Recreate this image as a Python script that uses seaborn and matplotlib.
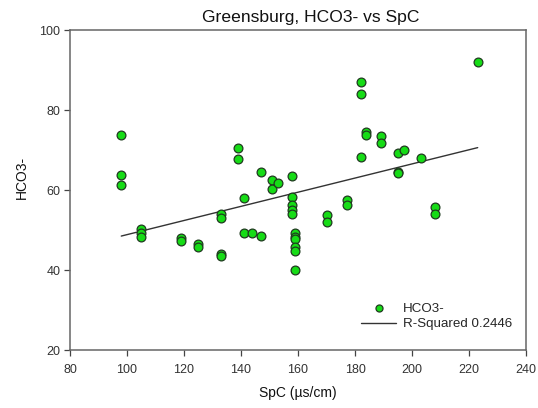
import matplotlib
matplotlib.use("Agg")
import matplotlib.pyplot as plt
import seaborn as sns
import pandas as pd
import numpy as np

# Data
spc = [98, 98, 98,
       105, 105, 105,
       119, 119,
       125, 125,
       133, 133, 133, 133,
       139, 139,
       141, 141,
       144,
       147, 147,
       151, 151,
       153,
       158, 158, 158, 158, 158,
       159, 159, 159, 159, 159, 159,
       170, 170,
       177, 177,
       182, 182, 182,
       184, 184,
       189, 189,
       195, 195, 195,
       197,
       203,
       208, 208,
       223]
hco3 = [73.7, 63.9, 61.4,
        50.2, 49.3, 48.2,
        48.1, 47.2,
        46.6, 45.8,
        54.1, 53.1, 44.0, 43.6,
        70.5, 67.9,
        58.1, 49.2,
        49.4,
        64.5, 48.6,
        62.5, 60.3,
        61.9,
        63.6, 58.4, 56.3, 55.1, 54.1,
        49.2, 48.3, 47.7, 45.8, 44.8, 40.0,
        53.7, 52.1,
        57.5, 56.3,
        87.1, 84.1, 68.4,
        74.6, 73.9,
        73.6, 71.9,
        69.3, 64.6, 64.2,
        70.1,
        68.1,
        55.7, 54.0,
        92.0]

title = "Greensburg, HCO3- vs SpC"
xlabel = "SpC (\u00b5s/cm)"
ylabel = "HCO3-"
series_label = "HCO3-"
fit_label = "R-Squared 0.2446"
xticks = [80, 100, 120, 140, 160, 180, 200, 220, 240]
yticks = [20, 40, 60, 80, 100]

df = pd.DataFrame({"SpC": spc, "HCO3": hco3})

sns.set_style("white")
plt.rcParams["font.family"] = ["Liberation Sans", "DejaVu Sans"]

fig = plt.figure(figsize=(5.38, 4.08), dpi=100)
ax = fig.add_axes([0.130, 0.1414, 0.848, 0.785])

sns.regplot(data=df, x="SpC", y="HCO3", scatter=False, ci=None, ax=ax,
            line_kws=dict(color="#333333", lw=1.0), label=fit_label)
sns.scatterplot(data=df, x="SpC", y="HCO3", ax=ax, s=40, color="#16dc16",
                edgecolor="#1f3a1f", linewidth=0.9, label=series_label, zorder=3)

ax.set_xlim(80, 240)
ax.set_ylim(20, 100)
ax.set_xticks(xticks)
ax.set_yticks(yticks)
ax.tick_params(axis="both", direction="out", length=4, width=0.9, color="#444444",
               labelsize=9, labelcolor="#333333", bottom=True, left=True)
ax.tick_params(axis="x", pad=6)
ax.tick_params(axis="y", pad=3)
for side in ["left", "bottom", "top", "right"]:
    ax.spines[side].set_visible(True)
    ax.spines[side].set_color("#666666")
    ax.spines[side].set_linewidth(1.1)

ax.set_title(title, fontsize=12.6, color="#111111", pad=6, x=0.528)
ax.set_xlabel(xlabel, fontsize=10, color="#111111", labelpad=7)
ax.set_ylabel(ylabel, fontsize=10, color="#111111", labelpad=6)
ax.yaxis.set_label_coords(-0.09, 0.54)

handles, labels = ax.get_legend_handles_labels()
order = [labels.index(series_label), labels.index(fit_label)]
ax.legend([handles[i] for i in order], [labels[i] for i in order],
          loc="lower right", frameon=False, fontsize=9.6, handlelength=2.6,
          handletextpad=0.5, markerscale=0.8,
          bbox_to_anchor=(0.995, 0.025), labelspacing=0.25)

fig.savefig("out.png", dpi=100)
